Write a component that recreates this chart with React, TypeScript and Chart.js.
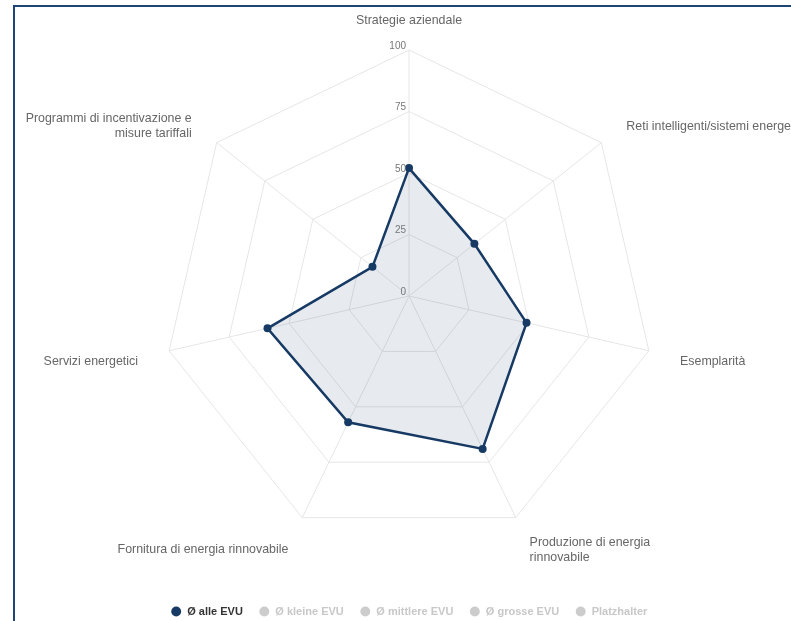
import React, { useEffect, useRef } from 'react';
import { Chart, registerables } from 'chart.js';

Chart.register(...registerables);

const categories: (string | string[])[] = [
  'Strategie aziendale',
  'Reti intelligenti/sistemi energetici',
  'Esemplarità',
  ['Produzione di energia', 'rinnovabile'],
  'Fornitura di energia rinnovabile',
  'Servizi energetici',
  ['Programmi di incentivazione e', 'misure tariffali'],
];

const seriesNames = ['Ø alle EVU', 'Ø kleine EVU', 'Ø mittlere EVU', 'Ø grosse EVU', 'Platzhalter'];
const alleEvu = [52, 34, 49, 69, 57, 59, 19];
const kleineEvu: number[] = [];
const mittlereEvu: number[] = [];
const grosseEvu: number[] = [];
const platzhalter: number[] = [];

const tickValues = [0, 25, 50, 75, 100];

const NAVY = '#173a64';
const FONT = '"Liberation Sans", Arial, Helvetica, sans-serif';

const labelPlugin = {
  id: 'axisNames',
  afterDraw(chart: any) {
    const scale = chart.scales.r;
    const ctx = chart.ctx;
    ctx.save();
    ctx.font = `12.4px ${FONT}`;
    ctx.fillStyle = '#666666';
    ctx.textBaseline = 'middle';
    const lh = 15;
    categories.forEach((label, i) => {
      const angle = scale.getIndexAngle(i);
      const s = Math.sin(angle);
      const isTop = Math.abs(s) < 0.01;
      const gap = isTop ? 24 : 32;
      const pos = scale.getPointPosition(i, scale.drawingArea + gap);
      const lines = Array.isArray(label) ? label : [label];
      ctx.textAlign = isTop ? 'center' : s > 0 ? 'left' : 'right';
      const y0 = isTop
        ? pos.y - (lines.length - 1) * lh - 5
        : pos.y - ((lines.length - 1) * lh) / 2 + 3.5;
      lines.forEach((ln, k) => ctx.fillText(ln, pos.x, y0 + k * lh));
    });
    ctx.restore();
  },
};

const tickPlugin = {
  id: 'axisTicks',
  afterDraw(chart: any) {
    const scale = chart.scales.r;
    const ctx = chart.ctx;
    ctx.save();
    ctx.font = `10px ${FONT}`;
    ctx.fillStyle = '#777777';
    ctx.textAlign = 'right';
    ctx.textBaseline = 'middle';
    tickValues.forEach((v) => {
      const d = scale.getDistanceFromCenterForValue(v);
      ctx.fillText(String(v), scale.xCenter - 3, scale.yCenter - d - 4);
    });
    ctx.restore();
  },
};

export default function App() {
  const ref = useRef<HTMLCanvasElement>(null);

  useEffect(() => {
    if (!ref.current) return;
    const seriesData = [alleEvu, kleineEvu, mittlereEvu, grosseEvu, platzhalter];
    const chart = new Chart(ref.current, {
      type: 'radar',
      data: {
        labels: categories,
        datasets: seriesNames.map((name, i) => ({
          label: name,
          data: seriesData[i],
          hidden: i !== 0,
          borderColor: NAVY,
          backgroundColor: 'rgba(23,58,100,0.1)',
          borderWidth: 2.5,
          pointRadius: 4,
          pointBorderWidth: 0,
          pointBackgroundColor: NAVY,
          fill: true,
        })),
      },
      options: {
        responsive: false,
        animation: false,
        layout: { padding: { top: 43, left: 2, right: 0, bottom: 0 } },
        scales: {
          r: {
            min: 0,
            max: 100,
            ticks: { display: false, stepSize: 25 },
            pointLabels: { display: false },
            grid: { color: '#e6e6e6', lineWidth: 1 },
            angleLines: { color: '#e6e6e6', lineWidth: 1 },
          },
        },
        plugins: {
          tooltip: { enabled: false },
          legend: {
            position: 'bottom',
            onClick: () => {},
            title: { display: true, text: '', font: { size: 10, lineHeight: 1 }, padding: { top: 37, bottom: 0 } },
            labels: {
              usePointStyle: true,
              pointStyle: 'circle',
              boxWidth: 11,
              boxHeight: 7,
              padding: 16,
              font: { family: FONT, size: 11, weight: 'bold' },
              generateLabels: (c: any) => {
                const items = (Chart as any).defaults.plugins.legend.labels.generateLabels(c);
                return items.map((it: any) => {
                  const hidden = !c.isDatasetVisible(it.datasetIndex);
                  const col = hidden ? '#cccccc' : NAVY;
                  return {
                    ...it,
                    hidden: false,
                    fillStyle: col,
                    strokeStyle: col,
                    lineWidth: 0,
                    pointStyle: 'circle',
                    fontColor: hidden ? '#c8c8c8' : '#333333',
                  };
                });
              },
            },
          },
        },
      },
      plugins: [labelPlugin, tickPlugin],
    } as any);
    return () => chart.destroy();
  }, []);

  return (
    <div style={{ position: 'fixed', left: 0, top: 0, width: 791, height: 621, overflow: 'hidden', background: '#fff' }}>
      <div
        style={{
          position: 'absolute',
          left: 13,
          top: 5,
          width: 800,
          height: 660,
          border: '2px solid #1f4372',
        }}
      >
        <canvas ref={ref} width={786} height={620} style={{ display: 'block' }} />
      </div>
    </div>
  );
}
